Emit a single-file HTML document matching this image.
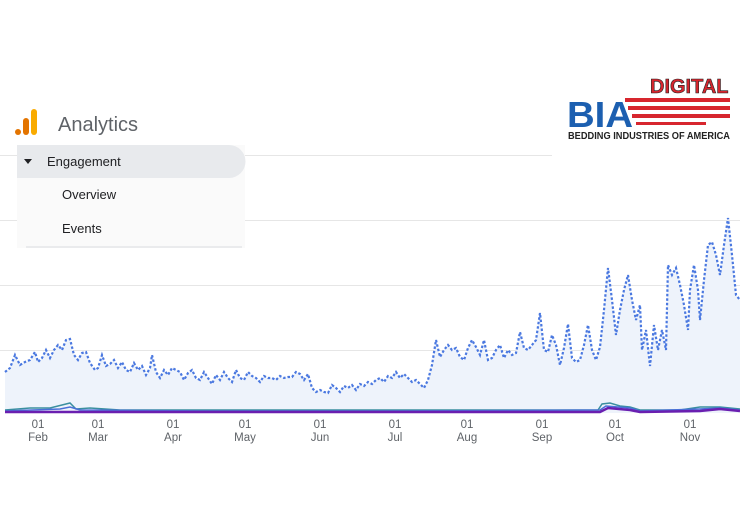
<!DOCTYPE html>
<html><head><style>
body{margin:0;width:740px;height:531px;background:#fff;overflow:hidden;position:relative;font-family:"Liberation Sans",sans-serif}
.a{position:absolute}
</style></head><body>
<svg class="a" style="left:0;top:0" width="740" height="531">
<g stroke="#e6e6e6" stroke-width="1">
<line x1="0" y1="155.5" x2="552" y2="155.5"/>
<line x1="0" y1="220.5" x2="740" y2="220.5"/>
<line x1="0" y1="285.5" x2="740" y2="285.5"/>
<line x1="0" y1="350.5" x2="740" y2="350.5"/>
</g>
<polygon fill="#eef3fb" points="5,413 5,372 10,368 15,355 20,365 25,362 30,360 35,352 38,362 42,358 46,350 50,358 54,350 58,345 62,350 66,340 70,339 74,355 78,360 82,353 86,352 90,363 95,370 98,368 102,355 106,366 110,364 114,360 118,368 122,362 126,370 130,372 134,363 138,370 142,366 146,375 150,368 152,355 156,372 160,378 164,370 168,375 172,368 176,370 180,372 184,380 188,373 192,370 196,378 200,380 204,372 208,378 212,384 216,375 220,380 224,372 228,378 232,382 236,370 240,378 244,380 248,372 252,376 256,378 260,382 264,376 268,378 272,378 276,380 280,376 284,378 288,377 292,377 296,372 300,374 304,380 308,374 312,388 316,392 320,390 324,392 328,393 332,385 336,388 340,392 344,386 348,388 352,385 356,390 360,384 364,386 368,382 372,384 376,380 380,378 384,382 388,376 392,378 396,372 400,378 404,374 408,378 412,382 416,380 420,384 424,388 428,380 432,365 436,340 440,357 444,350 448,345 452,350 456,348 460,357 464,360 468,348 472,340 476,347 480,355 484,340 488,360 492,358 496,350 500,345 504,358 508,350 512,355 516,353 520,332 524,348 528,350 532,345 536,340 540,313 544,350 548,352 552,335 556,345 560,365 564,348 568,324 572,358 576,362 580,360 584,345 588,325 592,350 596,360 600,347 604,310 608,268 612,300 616,335 620,310 624,290 628,275 632,300 636,320 640,305 642,350 646,330 650,366 654,325 658,350 662,330 666,350 668,265 672,275 676,268 680,285 684,305 688,330 690,290 694,265 698,290 700,320 704,280 708,245 712,242 716,255 720,275 724,245 728,218 732,255 736,295 740,300 740,413"/>
<polyline fill="none" stroke="#4a78e0" stroke-width="2.2" stroke-dasharray="2.5,2" points="5,372 10,368 15,355 20,365 25,362 30,360 35,352 38,362 42,358 46,350 50,358 54,350 58,345 62,350 66,340 70,339 74,355 78,360 82,353 86,352 90,363 95,370 98,368 102,355 106,366 110,364 114,360 118,368 122,362 126,370 130,372 134,363 138,370 142,366 146,375 150,368 152,355 156,372 160,378 164,370 168,375 172,368 176,370 180,372 184,380 188,373 192,370 196,378 200,380 204,372 208,378 212,384 216,375 220,380 224,372 228,378 232,382 236,370 240,378 244,380 248,372 252,376 256,378 260,382 264,376 268,378 272,378 276,380 280,376 284,378 288,377 292,377 296,372 300,374 304,380 308,374 312,388 316,392 320,390 324,392 328,393 332,385 336,388 340,392 344,386 348,388 352,385 356,390 360,384 364,386 368,382 372,384 376,380 380,378 384,382 388,376 392,378 396,372 400,378 404,374 408,378 412,382 416,380 420,384 424,388 428,380 432,365 436,340 440,357 444,350 448,345 452,350 456,348 460,357 464,360 468,348 472,340 476,347 480,355 484,340 488,360 492,358 496,350 500,345 504,358 508,350 512,355 516,353 520,332 524,348 528,350 532,345 536,340 540,313 544,350 548,352 552,335 556,345 560,365 564,348 568,324 572,358 576,362 580,360 584,345 588,325 592,350 596,360 600,347 604,310 608,268 612,300 616,335 620,310 624,290 628,275 632,300 636,320 640,305 642,350 646,330 650,366 654,325 658,350 662,330 666,350 668,265 672,275 676,268 680,285 684,305 688,330 690,290 694,265 698,290 700,320 704,280 708,245 712,242 716,255 720,275 724,245 728,218 732,255 736,295 740,300"/>
<polyline fill="none" stroke="#3a8fa0" stroke-width="1.5" points="5,410 30,408 50,408 62,405 70,403 76,409 90,408 120,410 200,410 300,410 400,410 520,410 598,410 602,404 610,403 620,406 630,407 640,410 680,410 700,407 720,407 740,409"/>
<polyline fill="none" stroke="#4a6fd8" stroke-width="1.5" points="5,411 60,409 70,407 80,410 200,411 400,411 600,410 606,406 630,408 640,411 700,409 720,408 740,410"/>
<polyline fill="none" stroke="#6a1fb0" stroke-width="2.5" points="5,412 300,412 600,412 608,408 630,410 640,412 700,411 720,409 740,411"/>
<g font-size="11.5" fill="#5f6368" text-anchor="middle">
<text x="38" y="428">01</text><text x="38" y="441">Feb</text>
<text x="98" y="428">01</text><text x="98" y="441">Mar</text>
<text x="173" y="428">01</text><text x="173" y="441">Apr</text>
<text x="245" y="428">01</text><text x="245" y="441">May</text>
<text x="320" y="428">01</text><text x="320" y="441">Jun</text>
<text x="395" y="428">01</text><text x="395" y="441">Jul</text>
<text x="467" y="428">01</text><text x="467" y="441">Aug</text>
<text x="542" y="428">01</text><text x="542" y="441">Sep</text>
<text x="615" y="428">01</text><text x="615" y="441">Oct</text>
<text x="690" y="428">01</text><text x="690" y="441">Nov</text>
</g>
<circle cx="18" cy="132" r="3" fill="#e37400"/>
<rect x="23" y="118" width="6" height="17" rx="3" fill="#e37400"/>
<rect x="31" y="109" width="6" height="26" rx="3" fill="#f9ab00"/>
<text x="58" y="131" font-size="20" fill="#5f6368">Analytics</text>
<rect x="17" y="145" width="228" height="103" fill="#fafafa"/>
<path d="M17 145 H229 A16 16 0 0 1 229 178 H17 Z" fill="#e8eaed"/>
<polygon points="24,159 32,159 28,164" fill="#202124"/>
<text x="47" y="166" font-size="13" fill="#202124">Engagement</text>
<text x="62" y="199" font-size="13" fill="#202124">Overview</text>
<text x="62" y="233" font-size="13" fill="#202124">Events</text>
<line x1="26" y1="247" x2="242" y2="247" stroke="#dadce0"/>
<text x="650" y="93" font-size="20" font-weight="bold" fill="#d7262e" stroke="#222" stroke-width="0.6">DIGITAL</text>
<g fill="#d7262e">
<rect x="625" y="98" width="105" height="4"/><rect x="628" y="106" width="102" height="4"/><rect x="632" y="114" width="98" height="4"/><rect x="636" y="122" width="70" height="3"/>
</g>
<text x="567" y="127" font-size="36" font-weight="bold" fill="#1c5fb0" textLength="66" lengthAdjust="spacingAndGlyphs">BIA</text>
<text x="568" y="139" font-size="10" font-weight="bold" fill="#222" textLength="162" lengthAdjust="spacingAndGlyphs">BEDDING INDUSTRIES OF AMERICA</text>
</svg>
</body></html>
